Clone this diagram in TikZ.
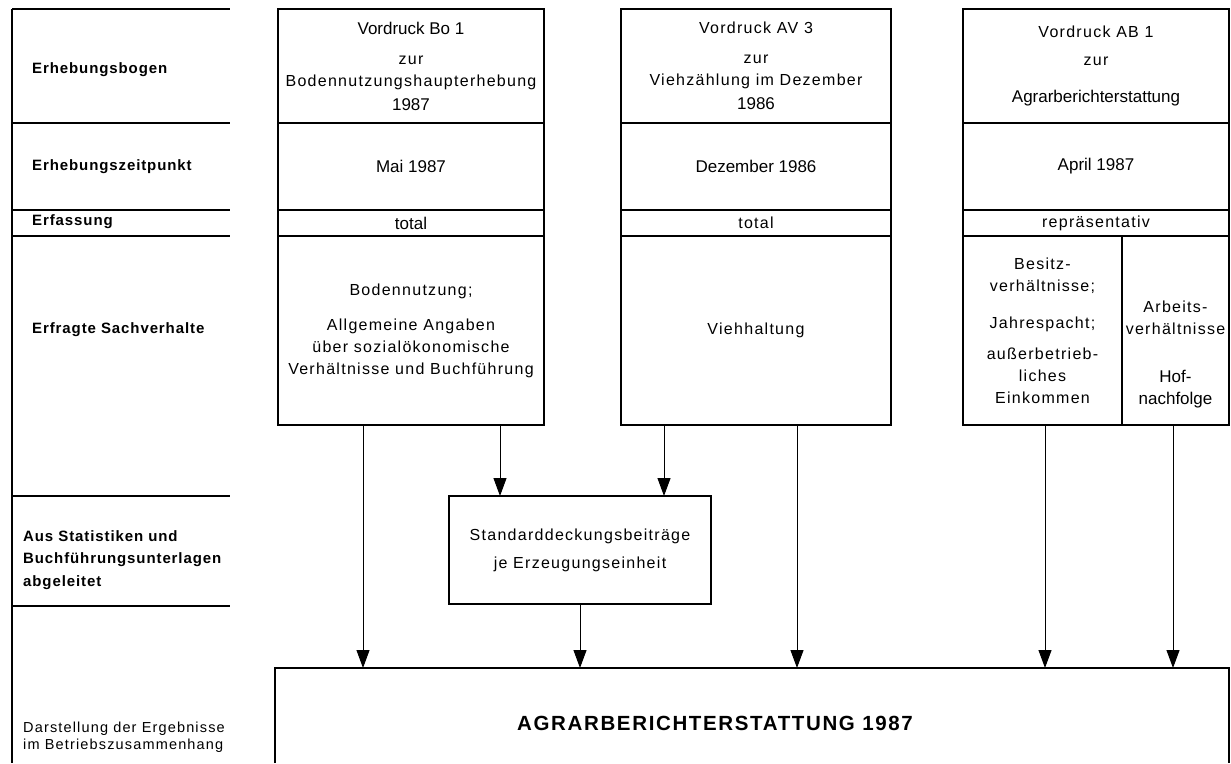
\documentclass[tikz,border=0pt]{standalone}
\usepackage{fontspec}
\setmainfont{Liberation Sans}
\newfontfamily\spcfont[LetterSpace=8]{Liberation Sans}
\newfontfamily\lblfont[LetterSpace=6]{Liberation Sans}
\newfontfamily\ttlfont[LetterSpace=8]{Liberation Sans}
\newcommand\spc{\spcfont\fontsize{16}{22}\selectfont}
\usepackage{tikz}
\usetikzlibrary{positioning,arrows.meta}

\tikzset{
	cell/.style={draw, line width=1.8pt, inner sep=0pt, outer sep=0pt, align=center,
		font=\fontsize{17}{22}\selectfont},
	sp/.style={font=\spc},
	txt/.style={inner sep=0pt, align=center, font=\fontsize{17}{22}\selectfont},
	lbl/.style={anchor=west, align=left, inner sep=0pt,
		font=\lblfont\bfseries\fontsize{15}{22.5}\selectfont},
	rule/.style={line width=1.3pt},
	arr/.style={-{Triangle[length=18pt,width=13pt]}, line width=1pt},
}

\begin{document}
\begin{tikzpicture}[x=1pt, y=-1pt]
	\useasboundingbox (0,0) rectangle (1231,763);

	% left column with the row titles
	\draw[rule] (12,9) -- (12,763);
	\foreach \y in {9,123,210,236,496,606}
		\draw[rule] (12,\y) -- (230,\y);

	\node[lbl] (lbogen) at (32,70) {Erhebungsbogen};
	\node[lbl] (lzeit) at (32,167) {Erhebungszeitpunkt};
	\node[lbl] (lerf) at (32,222) {Erfassung};
	\node[lbl] (lsach) at (32,330) {Erfragte Sachverhalte};
	\node[lbl] (lstat) at (23,560) {Aus Statistiken und\\Buchführungsunterlagen\\abgeleitet};
	\node[lbl, font=\spcfont\fontsize{14.5}{17.5}\selectfont] (ldar) at (23,737)
		{Darstellung der Ergebnisse\\im Betriebszusammenhang};

	% Vordruck Bo 1
	\node[cell, minimum width=266pt, minimum height=114pt] (bohead) at (411,66)
		{Vordruck Bo 1\\[8pt]{\spc zur}\\{\spc Bodennutzungshaupterhebung}\\[2pt]1987};
	\node[cell, minimum width=266pt, minimum height=87pt] (bozeit) at (411,166.5) {Mai 1987};
	\node[cell, minimum width=266pt, minimum height=26pt] (boerf) at (411,223) {total};
	\node[cell, sp, minimum width=266pt, minimum height=189pt] (bobody) at (411,330.5)
		{Bodennutzung;\\[13pt]Allgemeine Angaben\\über sozialökonomische\\Verhältnisse und Buchführung};

	% Vordruck AV 3
	\node[cell, minimum width=270pt, minimum height=114pt] (avhead) at (756,66)
		{{\spc Vordruck AV 3}\\[8pt]{\spc zur}\\{\spc Viehzählung im Dezember}\\[2pt]1986};
	\node[cell, minimum width=270pt, minimum height=87pt] (avzeit) at (756,166.5) {Dezember 1986};
	\node[cell, sp, minimum width=270pt, minimum height=26pt] (averf) at (756,223) {total};
	\node[cell, sp, minimum width=270pt, minimum height=189pt] (avbody) at (756,330.5) {Viehhaltung};

	% Vordruck AB 1
	\node[cell, minimum width=266pt, minimum height=114pt] (abhead) at (1096,66)
		{{\spc Vordruck AB 1}\\[6pt]{\spc zur}\\[15pt]Agrarberichterstattung};
	\node[cell, minimum width=266pt, minimum height=87pt] (abzeit) at (1096,166.5) {April 1987};
	\node[cell, sp, minimum width=266pt, minimum height=26pt] (aberf) at (1096,223) {repräsentativ};
	\node[cell, sp, minimum width=159pt, minimum height=189pt] (abl) at (1042.5,330.5)
		{Besitz-\\verhältnisse;\\[15pt]Jahrespacht;\\[9pt]außerbetrieb-\\liches\\Einkommen};
	\node[cell, minimum width=107pt, minimum height=189pt] (abr) at (1175.5,330.5) {};
	\node[txt] (abrtext) at ([yshift=-24pt]abr.center)
		{{\spc Arbeits-}\\{\spc verhältnisse}\\[26pt]Hof-\\nachfolge};

	% Standarddeckungsbeitraege
	\node[cell, sp, minimum width=262pt, minimum height=108pt] (std) at (580,550)
		{Standarddeckungsbeiträge\\[6pt]je Erzeugungseinheit};

	% result
	\node[inner sep=0pt, outer sep=0pt, minimum width=954pt, minimum height=95pt] (result) at (752,715.5) {};
	\draw[line width=1.8pt] (result.south west) -- (result.north west) -- (result.north east) -- (result.south east);
	\node[txt, font=\ttlfont\bfseries\fontsize{20.5}{22}\selectfont] (title) at (715,723)
		{AGRARBERICHTERSTATTUNG 1987};

	\draw[arr] (bobody.south -| 363,0) -- (result.north -| 363,0);
	\draw[arr] (bobody.south -| 500,0) -- (std.north -| 500,0);
	\draw[arr] (avbody.south -| 664,0) -- (std.north -| 664,0);
	\draw[arr] (std.south) -- (result.north -| std.south);
	\draw[arr] (avbody.south -| 797,0) -- (result.north -| 797,0);
	\draw[arr] (abl.south -| 1045,0) -- (result.north -| 1045,0);
	\draw[arr] (abr.south -| 1173,0) -- (result.north -| 1173,0);
\end{tikzpicture}
\end{document}
